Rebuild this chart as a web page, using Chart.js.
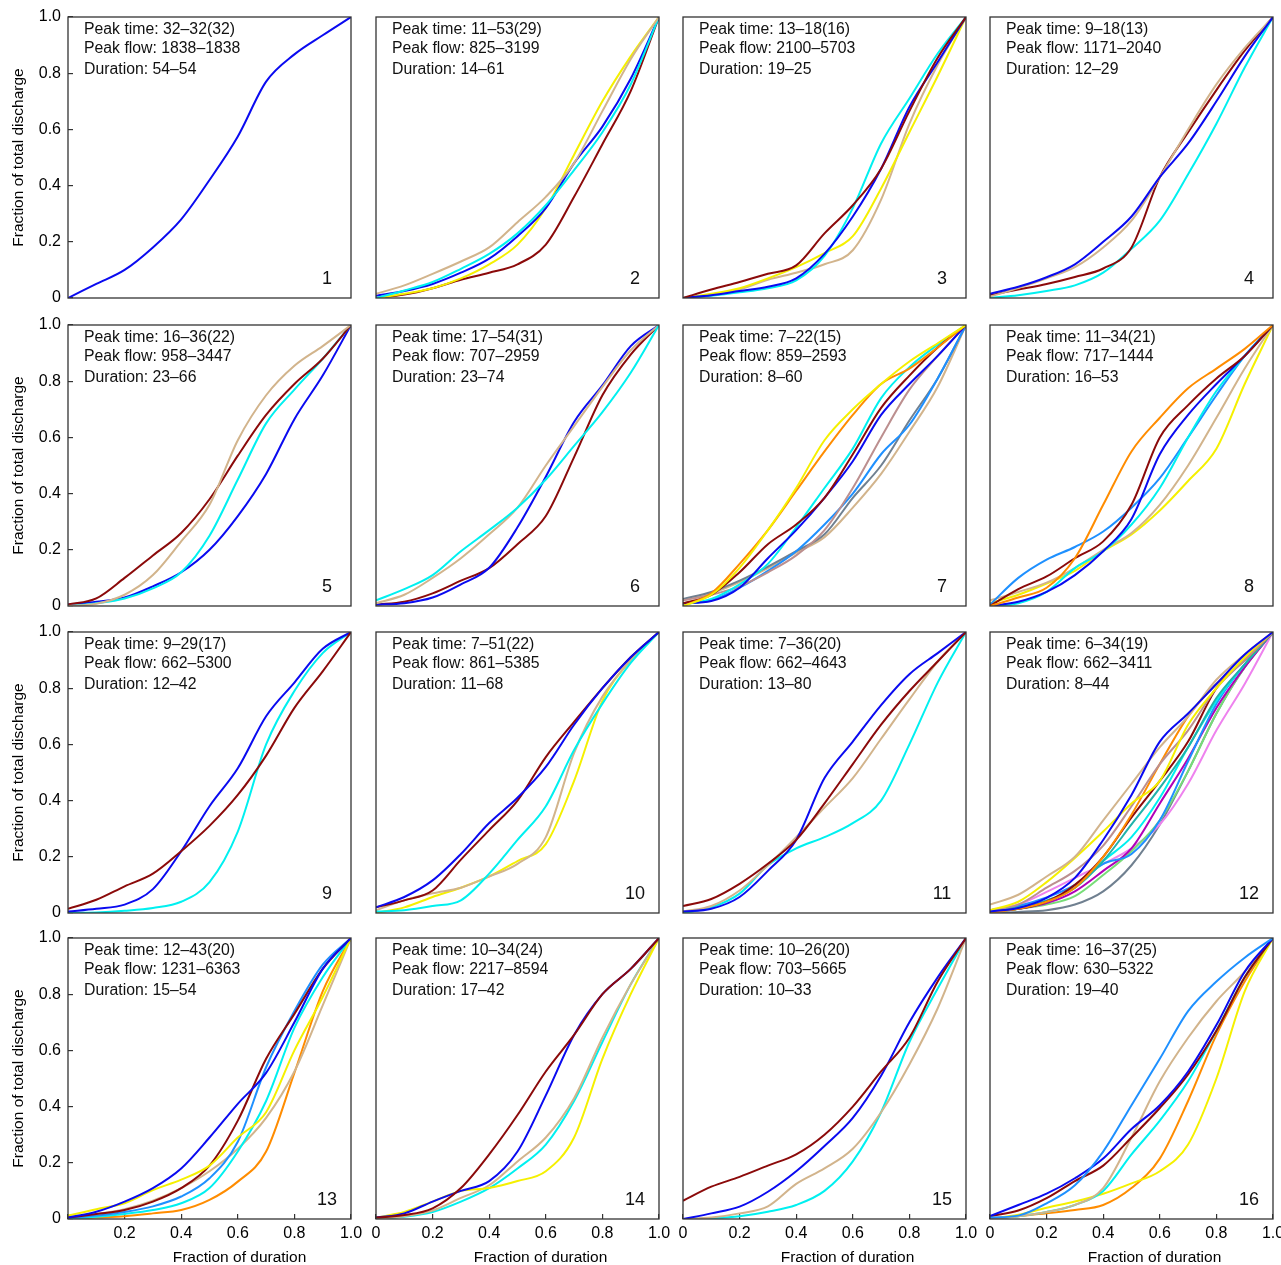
<!DOCTYPE html>
<html lang="en">
<head>
<meta charset="UTF-8">
<title>Cumulative discharge curves by event group</title>
<script src="https://cdn.jsdelivr.net/npm/chart.js"></script>
<style>
    body { margin: 0; background: #fff; }
    #wrap { position: relative; width: 1281px; height: 1265px; overflow: hidden; }
    #wrap canvas { position: absolute; }
</style>
</head>
<body>
<div id="wrap"></div>
<script>
// x positions shared by every curve (fraction of duration)
const fracDuration = [0, 0.1, 0.2, 0.3, 0.4, 0.5, 0.6, 0.7, 0.8, 0.9, 1.0];
const axisTicks = [0, 0.2, 0.4, 0.6, 0.8, 1.0];

// panel annotations
const peakTime = ['32–32(32)', '11–53(29)', '13–18(16)', '9–18(13)', '16–36(22)', '17–54(31)', '7–22(15)', '11–34(21)',
    '9–29(17)', '7–51(22)', '7–36(20)', '6–34(19)', '12–43(20)', '10–34(24)', '10–26(20)', '16–37(25)'];
const peakFlow = ['1838–1838', '825–3199', '2100–5703', '1171–2040', '958–3447', '707–2959', '859–2593', '717–1444',
    '662–5300', '861–5385', '662–4643', '662–3411', '1231–6363', '2217–8594', '703–5665', '630–5322'];
const duration = ['54–54', '14–61', '19–25', '12–29', '23–66', '23–74', '8–60', '16–53',
    '12–42', '11–68', '13–80', '8–44', '15–54', '17–42', '10–33', '19–40'];

// fraction of total discharge, one list of [colour, values] per panel
const panel1 = [
    ['blue', [0, 0.05, 0.1, 0.18, 0.28, 0.42, 0.575, 0.77, 0.867, 0.935, 1]]
];
const panel2 = [
    ['tan', [0.015, 0.045, 0.086, 0.13, 0.18, 0.27, 0.36, 0.48, 0.665, 0.85, 1]],
    ['cyan', [0, 0.027, 0.057, 0.104, 0.157, 0.23, 0.33, 0.455, 0.59, 0.76, 1]],
    ['blue', [0.008, 0.025, 0.05, 0.09, 0.14, 0.22, 0.32, 0.48, 0.61, 0.78, 1]],
    ['yellow', [0, 0.015, 0.035, 0.07, 0.12, 0.19, 0.32, 0.51, 0.7, 0.86, 1]],
    ['darkred', [0, 0.012, 0.035, 0.065, 0.09, 0.12, 0.19, 0.36, 0.547, 0.736, 1]]
];
const panel3 = [
    ['darkred', [0, 0.03, 0.057, 0.086, 0.116, 0.23, 0.33, 0.46, 0.665, 0.855, 1]],
    ['blue', [0, 0.01, 0.025, 0.04, 0.07, 0.157, 0.29, 0.46, 0.68, 0.84, 1]],
    ['cyan', [0, 0.008, 0.02, 0.035, 0.063, 0.15, 0.32, 0.55, 0.71, 0.87, 1]],
    ['yellow', [0, 0.015, 0.035, 0.07, 0.11, 0.16, 0.22, 0.39, 0.59, 0.79, 1]],
    ['tan', [0, 0.01, 0.03, 0.065, 0.09, 0.12, 0.17, 0.35, 0.62, 0.83, 1]]
];
const panel4 = [
    ['blue', [0.015, 0.04, 0.074, 0.12, 0.2, 0.29, 0.43, 0.55, 0.7, 0.86, 1]],
    ['tan', [0.005, 0.035, 0.07, 0.11, 0.18, 0.275, 0.43, 0.6, 0.76, 0.89, 1]],
    ['darkred', [0.01, 0.03, 0.05, 0.075, 0.105, 0.18, 0.43, 0.59, 0.74, 0.88, 1]],
    ['cyan', [0, 0.01, 0.025, 0.045, 0.09, 0.175, 0.275, 0.44, 0.62, 0.82, 1]]
];
const panel5 = [
    ['tan', [0, 0.008, 0.04, 0.11, 0.23, 0.36, 0.59, 0.75, 0.855, 0.925, 1]],
    ['darkred', [0.005, 0.027, 0.1, 0.18, 0.26, 0.38, 0.535, 0.68, 0.79, 0.88, 1]],
    ['cyan', [0, 0.01, 0.027, 0.063, 0.12, 0.25, 0.45, 0.65, 0.77, 0.88, 1]],
    ['blue', [0.005, 0.015, 0.03, 0.07, 0.12, 0.2, 0.32, 0.47, 0.665, 0.82, 1]]
];
const panel6 = [
    ['cyan', [0.02, 0.06, 0.11, 0.195, 0.27, 0.35, 0.45, 0.57, 0.69, 0.83, 1]],
    ['tan', [0.01, 0.04, 0.1, 0.17, 0.255, 0.35, 0.5, 0.64, 0.78, 0.91, 1]],
    ['blue', [0.005, 0.01, 0.03, 0.077, 0.136, 0.28, 0.46, 0.655, 0.785, 0.925, 1]],
    ['darkred', [0.005, 0.015, 0.045, 0.09, 0.135, 0.22, 0.32, 0.53, 0.75, 0.895, 1]]
];
const panel7 = [
    ['yellow', [0, 0.04, 0.136, 0.27, 0.42, 0.59, 0.7, 0.79, 0.87, 0.935, 1]],
    ['orange', [0, 0.045, 0.15, 0.27, 0.41, 0.55, 0.68, 0.79, 0.845, 0.92, 1]],
    ['darkred', [0.01, 0.04, 0.12, 0.22, 0.29, 0.385, 0.54, 0.705, 0.82, 0.92, 1]],
    ['blue', [0.01, 0.018, 0.065, 0.17, 0.27, 0.385, 0.515, 0.68, 0.79, 0.89, 1]],
    ['cyan', [0.005, 0.025, 0.077, 0.15, 0.28, 0.42, 0.56, 0.74, 0.85, 0.93, 1]],
    ['rosybrown', [0.02, 0.04, 0.07, 0.12, 0.18, 0.27, 0.42, 0.6, 0.77, 0.89, 1]],
    ['dodgerblue', [0.01, 0.02, 0.065, 0.125, 0.195, 0.29, 0.4, 0.54, 0.645, 0.81, 1]],
    ['slategray', [0.025, 0.05, 0.09, 0.14, 0.195, 0.255, 0.385, 0.5, 0.66, 0.81, 1]],
    ['tan', [0.02, 0.045, 0.085, 0.135, 0.19, 0.245, 0.35, 0.47, 0.62, 0.78, 1]]
];
const panel8 = [
    ['orange', [0, 0.03, 0.065, 0.17, 0.36, 0.55, 0.67, 0.775, 0.845, 0.915, 1]],
    ['darkred', [0, 0.06, 0.105, 0.17, 0.23, 0.36, 0.6, 0.715, 0.81, 0.89, 1]],
    ['blue', [0, 0.015, 0.05, 0.11, 0.195, 0.31, 0.54, 0.68, 0.79, 0.89, 1]],
    ['cyan', [0, 0.01, 0.05, 0.135, 0.195, 0.29, 0.42, 0.6, 0.765, 0.89, 1]],
    ['dodgerblue', [0.005, 0.1, 0.165, 0.21, 0.265, 0.35, 0.455, 0.6, 0.75, 0.89, 1]],
    ['tan', [0.02, 0.05, 0.083, 0.135, 0.2, 0.26, 0.36, 0.5, 0.67, 0.845, 1]],
    ['yellow', [0.01, 0.04, 0.08, 0.125, 0.195, 0.255, 0.34, 0.445, 0.56, 0.79, 1]]
];
const panel9 = [
    ['darkred', [0.015, 0.047, 0.095, 0.14, 0.22, 0.31, 0.42, 0.56, 0.73, 0.86, 1]],
    ['blue', [0.005, 0.015, 0.03, 0.085, 0.22, 0.38, 0.515, 0.7, 0.82, 0.94, 1]],
    ['cyan', [0, 0.002, 0.008, 0.018, 0.04, 0.11, 0.29, 0.6, 0.79, 0.925, 1]]
];
const panel10 = [
    ['blue', [0.02, 0.057, 0.116, 0.21, 0.32, 0.41, 0.52, 0.67, 0.8, 0.91, 1]],
    ['darkred', [0.02, 0.045, 0.08, 0.19, 0.295, 0.4, 0.555, 0.68, 0.8, 0.91, 1]],
    ['cyan', [0.005, 0.01, 0.025, 0.045, 0.14, 0.26, 0.38, 0.58, 0.745, 0.89, 1]],
    ['tan', [0.01, 0.045, 0.07, 0.09, 0.13, 0.175, 0.27, 0.57, 0.77, 0.9, 1]],
    ['yellow', [0, 0.02, 0.057, 0.09, 0.13, 0.185, 0.245, 0.47, 0.755, 0.9, 1]]
];
const panel11 = [
    ['darkred', [0.025, 0.05, 0.104, 0.175, 0.26, 0.39, 0.53, 0.67, 0.79, 0.895, 1]],
    ['blue', [0.005, 0.015, 0.057, 0.15, 0.26, 0.48, 0.61, 0.74, 0.85, 0.925, 1]],
    ['tan', [0.005, 0.025, 0.08, 0.17, 0.27, 0.375, 0.48, 0.62, 0.76, 0.895, 1]],
    ['cyan', [0, 0.02, 0.069, 0.17, 0.23, 0.27, 0.32, 0.4, 0.6, 0.82, 1]]
];
const panel12 = [
    ['blue', [0.005, 0.018, 0.054, 0.125, 0.26, 0.42, 0.61, 0.71, 0.815, 0.92, 1]],
    ['tan', [0.03, 0.065, 0.13, 0.2, 0.33, 0.46, 0.59, 0.7, 0.83, 0.92, 1]],
    ['yellow', [0.01, 0.04, 0.11, 0.196, 0.29, 0.39, 0.47, 0.67, 0.8, 0.91, 1]],
    ['rosybrown', [0.01, 0.03, 0.09, 0.15, 0.24, 0.38, 0.53, 0.65, 0.8, 0.9, 1]],
    ['orange', [0, 0.015, 0.04, 0.09, 0.2, 0.35, 0.53, 0.7, 0.815, 0.9, 1]],
    ['darkred', [0.005, 0.015, 0.04, 0.1, 0.2, 0.34, 0.47, 0.61, 0.8, 0.9, 1]],
    ['seagreen', [0.005, 0.02, 0.045, 0.09, 0.185, 0.315, 0.445, 0.59, 0.765, 0.885, 1]],
    ['cyan', [0, 0.015, 0.04, 0.09, 0.185, 0.27, 0.41, 0.59, 0.755, 0.885, 1]],
    ['dodgerblue', [0.01, 0.025, 0.055, 0.1, 0.175, 0.21, 0.33, 0.54, 0.745, 0.885, 1]],
    ['purple', [0, 0.015, 0.035, 0.077, 0.15, 0.23, 0.39, 0.55, 0.73, 0.875, 1]],
    ['lightgreen', [0, 0.015, 0.03, 0.06, 0.135, 0.22, 0.33, 0.505, 0.71, 0.875, 1]],
    ['violet', [0.01, 0.03, 0.075, 0.125, 0.175, 0.23, 0.315, 0.46, 0.65, 0.815, 1]],
    ['slategray', [0, 0.004, 0.01, 0.03, 0.077, 0.17, 0.315, 0.505, 0.71, 0.875, 1]]
];
const panel13 = [
    ['blue', [0.005, 0.026, 0.062, 0.11, 0.18, 0.29, 0.41, 0.52, 0.7, 0.89, 1]],
    ['yellow', [0.012, 0.035, 0.056, 0.103, 0.14, 0.19, 0.29, 0.38, 0.6, 0.79, 1]],
    ['darkred', [0.005, 0.018, 0.032, 0.062, 0.11, 0.19, 0.35, 0.57, 0.73, 0.89, 1]],
    ['dodgerblue', [0.003, 0.012, 0.025, 0.045, 0.08, 0.145, 0.275, 0.54, 0.74, 0.905, 1]],
    ['cyan', [0, 0.008, 0.018, 0.032, 0.056, 0.11, 0.24, 0.42, 0.68, 0.86, 1]],
    ['tan', [0.005, 0.018, 0.035, 0.065, 0.11, 0.17, 0.25, 0.36, 0.525, 0.76, 1]],
    ['orange', [0, 0.005, 0.01, 0.02, 0.032, 0.068, 0.133, 0.24, 0.52, 0.81, 1]]
];
const panel14 = [
    ['darkred', [0.005, 0.014, 0.038, 0.11, 0.23, 0.37, 0.525, 0.655, 0.8, 0.89, 1]],
    ['blue', [0.005, 0.02, 0.062, 0.1, 0.135, 0.24, 0.44, 0.655, 0.8, 0.89, 1]],
    ['yellow', [0.005, 0.025, 0.062, 0.1, 0.11, 0.135, 0.17, 0.29, 0.57, 0.8, 1]],
    ['tan', [0, 0.01, 0.03, 0.075, 0.12, 0.205, 0.29, 0.43, 0.645, 0.835, 1]],
    ['cyan', [0, 0.008, 0.025, 0.062, 0.11, 0.18, 0.265, 0.42, 0.63, 0.835, 1]]
];
const panel15 = [
    ['darkred', [0.065, 0.115, 0.15, 0.19, 0.23, 0.3, 0.4, 0.525, 0.645, 0.845, 1]],
    ['blue', [0, 0.02, 0.044, 0.097, 0.17, 0.26, 0.36, 0.51, 0.7, 0.86, 1]],
    ['tan', [0, 0.005, 0.02, 0.045, 0.125, 0.18, 0.25, 0.38, 0.55, 0.75, 1]],
    ['cyan', [0, 0.003, 0.01, 0.026, 0.05, 0.1, 0.205, 0.38, 0.63, 0.82, 1]]
];
const panel16 = [
    ['dodgerblue', [0.005, 0.012, 0.056, 0.12, 0.24, 0.405, 0.57, 0.74, 0.845, 0.93, 1]],
    ['blue', [0.01, 0.05, 0.09, 0.145, 0.215, 0.32, 0.405, 0.525, 0.69, 0.88, 1]],
    ['darkred', [0.01, 0.03, 0.074, 0.135, 0.19, 0.29, 0.395, 0.515, 0.67, 0.86, 1]],
    ['tan', [0, 0.01, 0.025, 0.05, 0.11, 0.29, 0.49, 0.645, 0.775, 0.88, 1]],
    ['cyan', [0, 0.01, 0.025, 0.05, 0.1, 0.23, 0.35, 0.49, 0.67, 0.86, 1]],
    ['yellow', [0, 0.015, 0.04, 0.062, 0.09, 0.127, 0.17, 0.265, 0.5, 0.81, 1]],
    ['orange', [0, 0.01, 0.02, 0.032, 0.05, 0.11, 0.215, 0.42, 0.655, 0.845, 1]]
];

const panels = [panel1, panel2, panel3, panel4, panel5, panel6, panel7, panel8,
    panel9, panel10, panel11, panel12, panel13, panel14, panel15, panel16];

const lineColors = {
    blue: '#0a0af0',
    cyan: '#00f0f0',
    tan: '#d2b48c',
    yellow: '#f5f000',
    darkred: '#8b0a0a',
    orange: '#ff8c00',
    dodgerblue: '#1e90ff',
    slategray: '#708090',
    rosybrown: '#bc8f8f',
    seagreen: '#20b2aa',
    purple: '#b000b8',
    lightgreen: '#77dd77',
    violet: '#ee82ee'
};

// page geometry
const colLeft = [68, 376, 683, 990];
const rowTop = [17, 325, 632, 938];
const plotW = 283, plotH = 281;
const padL = 68, padT = 10, padR = 16, padB = 46;
const fontFamily = '"Liberation Sans", Arial, Helvetica, sans-serif';

Chart.defaults.font.family = fontFamily;
Chart.defaults.color = '#000';

// frame, in-panel notes, panel number and x title
const panelDecor = {
    id: 'panelDecor',
    afterDraw(chart, args, opts) {
        const { ctx, chartArea: a } = chart;
        ctx.save();
        ctx.strokeStyle = '#333';
        ctx.lineWidth = 1.3;
        ctx.strokeRect(a.left, a.top, a.right - a.left, a.bottom - a.top);

        ctx.fillStyle = '#111';
        ctx.textBaseline = 'middle';
        ctx.textAlign = 'left';
        ctx.font = '15.8px ' + fontFamily;
        const dy = [12.5, 32, 53];
        opts.notes.forEach((t, i) => ctx.fillText(t, a.left + 16, a.top + dy[i]));

        ctx.textAlign = 'center';
        ctx.font = '18px ' + fontFamily;
        ctx.fillText(opts.label, a.right - 24, a.bottom - 19);

        if (opts.xTitle) {
            ctx.fillStyle = '#000';
            ctx.font = '15.5px ' + fontFamily;
            ctx.fillText(opts.xTitle, (a.left + a.right) / 2 + opts.xShift, a.bottom + 39);
        }
        ctx.restore();
    }
};

const wrap = document.getElementById('wrap');
const fmt = v => (Math.abs(v) < 1e-9 ? '0' : v.toFixed(1));

// keep every plot area the same size: no extra room for overhanging labels
const noOverhang = s => {
    s.paddingTop = 0; s.paddingBottom = 0; s.paddingLeft = 0; s.paddingRight = 0;
};

panels.forEach((series, idx) => {
    const col = idx % 4, row = Math.floor(idx / 4);
    const leftAxis = col === 0, bottomAxis = row === 3;

    const canvas = document.createElement('canvas');
    canvas.width = padL + plotW + padR;
    canvas.height = padT + plotH + padB;
    canvas.style.left = (colLeft[col] - padL) + 'px';
    canvas.style.top = (rowTop[row] - padT) + 'px';
    wrap.appendChild(canvas);

    const datasets = series.map(([key, vals]) => ({
        label: key,
        data: vals.map((y, i) => ({ x: fracDuration[i], y })),
        borderColor: lineColors[key],
        borderWidth: 2,
        pointRadius: 0,
        cubicInterpolationMode: 'monotone',
        fill: false
    }));

    const tickGrid = on => on
        ? { display: true, drawOnChartArea: false, drawTicks: true, tickLength: -5, tickColor: '#333', lineWidth: 1.2 }
        : { display: false };

    new Chart(canvas, {
        type: 'line',
        data: { datasets },
        plugins: [panelDecor],
        options: {
            responsive: false,
            animation: false,
            events: [],
            layout: { padding: { left: 0, top: padT, right: padR, bottom: 0 } },
            scales: {
                x: {
                    type: 'linear',
                    min: 0,
                    max: 1,
                    border: { display: false },
                    grid: tickGrid(bottomAxis),
                    afterBuildTicks: s => { s.ticks = axisTicks.map(v => ({ value: v })); },
                    afterFit: s => { s.height = padB; noOverhang(s); },
                    ticks: {
                        display: bottomAxis,
                        padding: 10,
                        maxRotation: 0,
                        autoSkip: false,
                        font: { size: 16 },
                        callback: v => (leftAxis && v === 0 ? '' : fmt(v))
                    }
                },
                y: {
                    type: 'linear',
                    min: 0,
                    max: 1,
                    border: { display: false },
                    grid: tickGrid(leftAxis),
                    afterBuildTicks: s => { s.ticks = axisTicks.map(v => ({ value: v })); },
                    afterFit: s => { s.width = padL; noOverhang(s); },
                    ticks: {
                        display: leftAxis,
                        padding: 12,
                        autoSkip: false,
                        font: { size: 16 },
                        callback: v => fmt(v)
                    },
                    title: {
                        display: leftAxis,
                        text: 'Fraction of total discharge',
                        font: { size: 15.5 },
                        padding: { top: 9, bottom: 0 }
                    }
                }
            },
            plugins: {
                legend: { display: false },
                tooltip: { enabled: false },
                panelDecor: {
                    notes: ['Peak time: ' + peakTime[idx], 'Peak flow: ' + peakFlow[idx], 'Duration: ' + duration[idx]],
                    label: String(idx + 1),
                    xTitle: bottomAxis ? 'Fraction of duration' : '',
                    xShift: leftAxis ? 30 : 23
                }
            }
        }
    });
});
</script>
</body>
</html>
